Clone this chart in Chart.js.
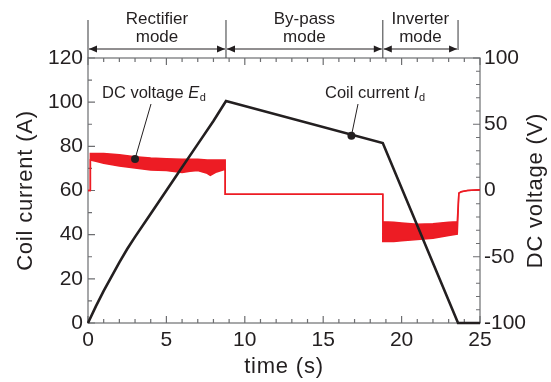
<!DOCTYPE html>
<html>
<head>
<meta charset="utf-8">
<script src="https://cdn.jsdelivr.net/npm/chart.js@4.4.1/dist/chart.umd.min.js"></script>
<style>
  html, body { margin: 0; padding: 0; background: #fff; }
  #wrap { width: 551px; height: 382px; }
</style>
</head>
<body>
<div id="wrap"><canvas id="coilChart" width="551" height="382"></canvas></div>
<script>
// Coil current (A) against time (s)
const currentTime = [0, 0.5, 1, 1.5, 2, 2.5, 3, 4, 5, 6, 7, 8, 8.8, 18.8, 23.6, 25];
const currentValues = [0, 7.5, 14.5, 21, 27.5, 33.5, 39, 49.5, 60, 70.5, 81, 91.5, 100.5, 81.5, 0, 0];

// DC voltage (V): upper and lower edge of the ripple band
const voltageTime = [0, 0.15, 0.15, 0.5, 1, 2, 3, 4, 5, 6, 6.5, 7, 7.6, 7.8, 8.2, 8.75, 8.75, 18.8, 18.8, 19.5, 20, 21, 22, 23, 23.55, 23.65, 23.8, 24.2, 25];
const voltageUpper = [0, 0, 28, 28, 28, 27, 25.5, 24.5, 24, 23.5, 23.5, 23.5, 23, 23, 23, 23, -2.8, -2.8, -23.5, -24, -24.5, -25.5, -25, -24, -23.5, -2, -1, 0, 0.6];
const voltageLower = [0, 0, 23, 22, 20.5, 18.5, 17, 15.5, 15, 13.5, 14.5, 15, 13, 11.5, 14, 16, -2.8, -2.8, -38.5, -38.5, -38, -37, -36, -34, -33, -2, -1, 0, 0.6];

// Marker dots for the two callouts
const currentMarker = { x: 16.8, y: 84.8 };
const voltageMarker = { x: 3.0, y: 23.8 };

// Operation modes along the top
const modeBounds = [0, 8.8, 18.8, 23.6];
const modeNames = [["Rectifier", "mode"], ["By-pass", "mode"], ["Inverter", "mode"]];

const black = "#231f20";
const red = "#ed1c24";
const frameColor = "#6d6e71";
const fontFamily = 'Arial, "Liberation Sans", Helvetica, sans-serif';

function toPoints(xs, ys) {
    return xs.map((x, i) => ({ x: x, y: ys[i] }));
}

function arrowHead(ctx, x, y, dir) {
    ctx.beginPath();
    ctx.moveTo(x, y);
    ctx.lineTo(x - dir * 8, y - 3.5);
    ctx.lineTo(x - dir * 8, y + 3.5);
    ctx.closePath();
    ctx.fill();
}

// Callout text like "DC voltage E_d"
function drawCallout(ctx, x, y, plain, sym, sub) {
    ctx.textAlign = "left";
    ctx.textBaseline = "alphabetic";
    ctx.font = "16.5px " + fontFamily;
    ctx.fillText(plain, x, y);
    x += ctx.measureText(plain).width;
    ctx.font = "italic 16.5px " + fontFamily;
    ctx.fillText(sym, x, y);
    x += ctx.measureText(sym).width + 0.5;
    ctx.font = "11px " + fontFamily;
    ctx.fillText(sub, x, y + 3);
}

const decorations = {
    id: "decorations",
    beforeDatasetsDraw(chart) {
        const { ctx, chartArea: a, scales } = chart;
        ctx.save();
        ctx.strokeStyle = frameColor;
        ctx.lineWidth = 1.2;
        ctx.strokeRect(a.left, a.top, a.right - a.left, a.bottom - a.top);

        ctx.beginPath();
        // time ticks, bottom and top, pointing inward
        for (let v = 0; v <= 25; v++) {
            const px = scales.x.getPixelForValue(v);
            const len = v % 5 === 0 ? 7 : 4;
            ctx.moveTo(px, a.bottom); ctx.lineTo(px, a.bottom - len);
            ctx.moveTo(px, a.top); ctx.lineTo(px, a.top + len);
        }
        // coil current ticks
        for (let v = 0; v <= 120; v += 10) {
            const py = scales.y.getPixelForValue(v);
            const len = v % 20 === 0 ? 7 : 4;
            ctx.moveTo(a.left, py); ctx.lineTo(a.left + len, py);
        }
        // DC voltage ticks
        for (let v = -100; v <= 100; v += 10) {
            const py = scales.y2.getPixelForValue(v);
            const len = v % 50 === 0 ? 7 : 4;
            ctx.moveTo(a.right, py); ctx.lineTo(a.right - len, py);
        }
        ctx.stroke();
        ctx.restore();
    },
    afterDatasetsDraw(chart) {
        const { ctx, chartArea: a, scales } = chart;
        ctx.save();

        // mode boundaries and arrows
        const arrowY = 49;
        ctx.strokeStyle = "#58595b";
        ctx.lineWidth = 1.2;
        ctx.beginPath();
        modeBounds.forEach((b, i) => {
            const px = scales.x.getPixelForValue(b);
            ctx.moveTo(px, 20);
            ctx.lineTo(px, i === modeBounds.length - 1 ? arrowY + 1 : a.top);
        });
        ctx.stroke();

        ctx.strokeStyle = black;
        ctx.fillStyle = black;
        ctx.lineWidth = 1;
        for (let i = 0; i < modeNames.length; i++) {
            const x1 = scales.x.getPixelForValue(modeBounds[i]) + 1;
            const x2 = scales.x.getPixelForValue(modeBounds[i + 1]) - 1;
            ctx.beginPath();
            ctx.moveTo(x1, arrowY); ctx.lineTo(x2, arrowY);
            ctx.stroke();
            arrowHead(ctx, x1, arrowY, -1);
            arrowHead(ctx, x2, arrowY, 1);

            const cx = (x1 + x2) / 2;
            ctx.font = "17px " + fontFamily;
            ctx.textAlign = "center";
            ctx.textBaseline = "alphabetic";
            ctx.fillText(modeNames[i][0], cx, 24);
            ctx.fillText(modeNames[i][1], cx, 42);
        }

        // callouts with leader lines
        ctx.fillStyle = black;
        drawCallout(ctx, 102, 98, "DC voltage ", "E", "d");
        drawCallout(ctx, 325, 98, "Coil current ", "I", "d");

        ctx.strokeStyle = black;
        ctx.lineWidth = 1;
        ctx.beginPath();
        ctx.moveTo(151, 104);
        ctx.lineTo(scales.x.getPixelForValue(voltageMarker.x), scales.y2.getPixelForValue(voltageMarker.y));
        ctx.moveTo(358, 104);
        ctx.lineTo(scales.x.getPixelForValue(currentMarker.x), scales.y.getPixelForValue(currentMarker.y));
        ctx.stroke();

        // axis titles
        ctx.fillStyle = black;
        ctx.font = "22px " + fontFamily;
        ctx.letterSpacing = "0.8px";
        ctx.textAlign = "center";
        ctx.textBaseline = "middle";
        ctx.fillText("time (s)", (a.left + a.right) / 2, 367);

        const midY = (a.top + a.bottom) / 2;
        ctx.save();
        ctx.translate(26, midY);
        ctx.rotate(-Math.PI / 2);
        ctx.fillText("Coil current (A)", 0, 0);
        ctx.restore();

        ctx.save();
        ctx.translate(536, midY);
        ctx.rotate(-Math.PI / 2);
        ctx.fillText("DC voltage (V)", 0, 0);
        ctx.restore();

        ctx.restore();
    }
};

const tickFont = { family: fontFamily, size: 21 };

new Chart(document.getElementById("coilChart"), {
    type: "line",
    data: {
        datasets: [
            {
                label: "markers current",
                data: [currentMarker],
                yAxisID: "y",
                showLine: false,
                pointRadius: 4,
                pointBackgroundColor: black,
                pointBorderWidth: 0,
                order: 0
            },
            {
                label: "markers voltage",
                data: [voltageMarker],
                yAxisID: "y2",
                showLine: false,
                pointRadius: 4,
                pointBackgroundColor: black,
                pointBorderWidth: 0,
                order: 0
            },
            {
                label: "Coil current",
                data: toPoints(currentTime, currentValues),
                yAxisID: "y",
                borderColor: black,
                borderWidth: 2.6,
                pointRadius: 0,
                tension: 0,
                clip: 4,
                order: 1
            },
            {
                label: "DC voltage upper",
                data: toPoints(voltageTime, voltageUpper),
                yAxisID: "y2",
                borderColor: red,
                borderWidth: 1.5,
                pointRadius: 0,
                tension: 0,
                fill: false,
                order: 2
            },
            {
                label: "DC voltage lower",
                data: toPoints(voltageTime, voltageLower),
                yAxisID: "y2",
                borderColor: red,
                backgroundColor: red,
                borderWidth: 1.5,
                pointRadius: 0,
                tension: 0,
                fill: "-1",
                order: 2
            }
        ]
    },
    options: {
        responsive: false,
        animation: false,
        layout: { padding: { top: 58, left: 0, right: 0, bottom: 0 } },
        scales: {
            x: {
                type: "linear",
                position: "bottom",
                min: 0,
                max: 25,
                grid: { display: false, drawTicks: false },
                border: { display: false },
                ticks: { stepSize: 5, font: tickFont, color: black, padding: 5, maxRotation: 0 },
                afterFit(scale) { scale.height = 59; }
            },
            y: {
                type: "linear",
                position: "left",
                min: 0,
                max: 120,
                grid: { display: false, drawTicks: false },
                border: { display: false },
                ticks: { stepSize: 20, font: tickFont, color: black, padding: 5 },
                afterFit(scale) { scale.width = 88; }
            },
            y2: {
                type: "linear",
                position: "right",
                min: -100,
                max: 100,
                grid: { display: false, drawTicks: false },
                border: { display: false },
                ticks: { stepSize: 50, font: tickFont, color: black, padding: 4 },
                afterFit(scale) { scale.width = 71; }
            }
        },
        plugins: {
            legend: { display: false },
            tooltip: { enabled: false }
        }
    },
    plugins: [decorations]
});
</script>
</body>
</html>
